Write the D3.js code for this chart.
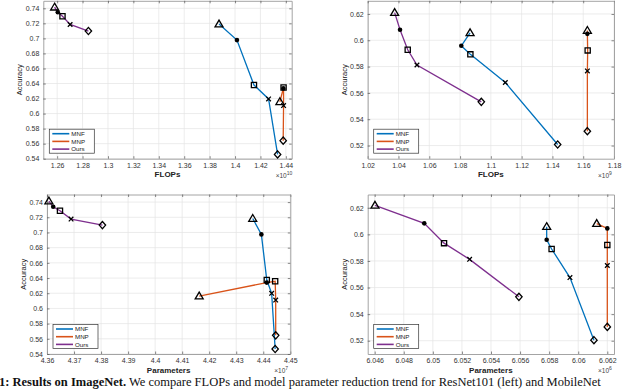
<!DOCTYPE html>
<html>
<head>
<meta charset="utf-8">
<script src="https://cdn.jsdelivr.net/npm/d3@7"></script>
<style>
  body { margin: 0; background: #fff; }
  svg { display: block; }
</style>
</head>
<body>
<div id="chart"></div>
<script>
/* accuracy vs FLOPs / parameters, four panels */

var seriesNames = ["MNF", "MNP", "Ours"];
var seriesColors = ["#0072BD", "#D95319", "#7E2F8E"];
var markerTypes = ["triangle", "circle", "square", "cross", "diamond"];

// ResNet101, FLOPs (x1e10) vs accuracy
var resFlopsMNF = [[1.3874,0.719],[1.4015,0.6977],[1.4149,0.638],[1.4264,0.6195],[1.4335,0.5457]];
var resFlopsMNP = [[1.4353,0.6157],[1.4380,0.6335],[1.4382,0.6347],[1.4382,0.6107],[1.4379,0.564]];
var resFlopsOurs = [[1.258,0.7415],[1.2605,0.7347],[1.2642,0.7295],[1.2702,0.7185],[1.2846,0.7098]];

// MobileNet, FLOPs (x1e9) vs accuracy
var mobFlopsMNF = [[1.0865,0.6056],[1.0808,0.5958],[1.0867,0.5893],[1.1094,0.5679],[1.1434,0.5208]];
var mobFlopsMNP = [[1.1627,0.6074],[1.1627,0.6049],[1.1629,0.5923],[1.1627,0.5767],[1.1627,0.5309]];
var mobFlopsOurs = [[1.0375,0.621],[1.041,0.608],[1.046,0.5928],[1.052,0.5812],[1.0938,0.5532]];

// ResNet101, parameters (x1e7) vs accuracy
var resParamsMNF = [[4.4361,0.7184],[4.4393,0.6975],[4.4413,0.6374],[4.4431,0.6199],[4.4444,0.5466]];
var resParamsMNP = [[4.4163,0.6163],[4.4413,0.634],[4.4444,0.6357],[4.4446,0.611],[4.4446,0.5646]];
var resParamsOurs = [[4.3607,0.7413],[4.3623,0.7338],[4.3648,0.7286],[4.3689,0.7176],[4.3805,0.7097]];

// MobileNet, parameters (x1e6) vs accuracy
var mobParamsMNF = [[6.05783,0.6058],[6.05783,0.5959],[6.05817,0.589],[6.05943,0.5675],[6.06108,0.5204]];
var mobParamsMNP = [[6.06127,0.6081],[6.06200,0.6045],[6.06200,0.5921],[6.06200,0.5766],[6.06200,0.5304]];
var mobParamsOurs = [[6.04602,0.6218],[6.04941,0.6083],[6.05077,0.5934],[6.05253,0.5812],[6.05592,0.553]];

// tick values
var xTicksResFlops = [1.26,1.28,1.30,1.32,1.34,1.36,1.38,1.40,1.42,1.44];
var xTicksMobFlops = [1.02,1.04,1.06,1.08,1.10,1.12,1.14,1.16,1.18];
var xTicksResParams = [4.36,4.37,4.38,4.39,4.40,4.41,4.42,4.43,4.44,4.45];
var xTicksMobParams = [6.046,6.048,6.050,6.052,6.054,6.056,6.058,6.060,6.062];
var yTicksRes = [0.54,0.56,0.58,0.60,0.62,0.64,0.66,0.68,0.70,0.72,0.74];
var yTicksMob = [0.52,0.54,0.56,0.58,0.60,0.62];

var W = 640, H = 389;

var panels = [
  {l:43.3, r:291.7, t:0.8, b:158.7, xd:[1.2491,1.4446], yd:[0.54,0.75], xt:xTicksResFlops, yt:yTicksRes,
   xlab:"FLOPs", exp:"10", data:[resFlopsMNF,resFlopsMNP,resFlopsOurs]},
  {l:367.7, r:614, t:0.8, b:158.7, xd:[1.02,1.18], yd:[0.51,0.63], xt:xTicksMobFlops, yt:yTicksMob,
   xlab:"FLOPs", exp:"9", data:[mobFlopsMNF,mobFlopsMNP,mobFlopsOurs]},
  {l:47, r:290.3, t:194.5, b:354, xd:[4.36,4.45], yd:[0.54,0.75], xt:xTicksResParams, yt:yTicksRes,
   xlab:"Parameters", exp:"7", data:[resParamsMNF,resParamsMNP,resParamsOurs]},
  {l:367.7, r:614, t:194.5, b:354, xd:[6.04552,6.06246], yd:[0.51,0.63], xt:xTicksMobParams, yt:yTicksMob,
   xlab:"Parameters", exp:"6", data:[mobParamsMNF,mobParamsMNP,mobParamsOurs]}
];

var svg = d3.select("#chart").append("svg")
  .attr("width", W).attr("height", H);

function fmt(v){ return String(+v.toFixed(4)); }

function marker(g, type, x, y){
  var p;
  if (type=="triangle") p = `M${x},${y-4}L${x+4},${y+2.8}L${x-4},${y+2.8}Z`;
  else if (type=="square") p = `M${x-2.6},${y-2.6}h5.2v5.2h-5.2Z`;
  else if (type=="diamond") p = `M${x},${y-3.6}L${x+3.2},${y}L${x},${y+3.6}L${x-3.2},${y}Z`;
  else if (type=="cross") p = `M${x-2.3},${y-2.3}L${x+2.3},${y+2.3}M${x-2.3},${y+2.3}L${x+2.3},${y-2.3}`;
  if (type=="circle") {
    g.append("circle").attr("cx",x).attr("cy",y).attr("r",2.3).attr("fill","#000");
  } else {
    g.append("path").attr("d",p).attr("fill","none").attr("stroke","#000").attr("stroke-width",1.3);
  }
}

panels.forEach(function(P){
  var x = d3.scaleLinear().domain(P.xd).range([P.l,P.r]);
  var y = d3.scaleLinear().domain(P.yd).range([P.b,P.t]);
  var g = svg.append("g");

  // grid
  g.selectAll(".gx").data(P.xt).enter().append("line")
    .attr("x1",d=>x(d)).attr("x2",d=>x(d)).attr("y1",P.t).attr("y2",P.b)
    .attr("stroke","#e4e4e4").attr("stroke-width",0.7);
  g.selectAll(".gy").data(P.yt).enter().append("line")
    .attr("y1",d=>y(d)).attr("y2",d=>y(d)).attr("x1",P.l).attr("x2",P.r)
    .attr("stroke","#e4e4e4").attr("stroke-width",0.7);

  // axes, ticks inward
  g.append("g").attr("transform",`translate(0,${P.b})`)
    .call(d3.axisBottom(x).tickValues(P.xt).tickFormat(fmt).tickSizeInner(-2.5).tickSizeOuter(0).tickPadding(4));
  g.append("g").attr("transform",`translate(${P.l},0)`)
    .call(d3.axisLeft(y).tickValues(P.yt).tickFormat(fmt).tickSizeInner(-2.5).tickSizeOuter(0).tickPadding(4));
  g.append("g").attr("transform",`translate(0,${P.t})`)
    .call(d3.axisTop(x).tickValues(P.xt).tickFormat("").tickSizeInner(-2.5).tickSizeOuter(0));
  g.append("g").attr("transform",`translate(${P.r},0)`)
    .call(d3.axisRight(y).tickValues(P.yt).tickFormat("").tickSizeInner(-2.5).tickSizeOuter(0));
  g.selectAll(".domain").attr("stroke","#9a9a9a").attr("stroke-width",0.9);
  g.selectAll(".tick line").attr("stroke","#555").attr("stroke-width",0.7);
  g.selectAll(".tick text").attr("font-family","Liberation Sans, Arial, sans-serif")
    .attr("font-size",7).attr("fill","#333");

  // labels
  g.append("text").text(P.xlab)
    .attr("x",(P.l+P.r)/2).attr("y",P.b+18.5).attr("text-anchor","middle")
    .attr("font-family","Liberation Sans, Arial, sans-serif").attr("font-size",8)
    .attr("font-weight","bold").attr("fill","#222");
  g.append("text")
    .attr("transform",`translate(${P.l-21},${(P.t+P.b)/2}) rotate(-90)`)
    .attr("text-anchor","middle")
    .attr("font-family","Liberation Sans, Arial, sans-serif").attr("font-size",7.5)
    .attr("fill","#222").text("Accuracy");
  var e = g.append("text").attr("x",P.r-16).attr("y",P.b+19)
    .attr("font-family","Liberation Sans, Arial, sans-serif").attr("font-size",6.5).attr("fill","#444");
  e.append("tspan").text("\u00d710");
  e.append("tspan").attr("dy",-3).attr("font-size",5).text(P.exp);

  // lines then markers
  var line = d3.line().x(d=>x(d[0])).y(d=>y(d[1]));
  P.data.forEach(function(s,i){
    g.append("path").datum(s).attr("d",line)
      .attr("fill","none").attr("stroke",seriesColors[i]).attr("stroke-width",1.3);
  });
  P.data.forEach(function(s){
    s.forEach(function(d,j){ marker(g, markerTypes[j], x(d[0]), y(d[1])); });
  });

  // legend
  var lx = P.l+6, lb = P.b-5.5, lw = 45, lh = 24;
  var lg = g.append("g");
  lg.append("rect").attr("x",lx).attr("y",lb-lh).attr("width",lw).attr("height",lh)
    .attr("fill","#fff").attr("stroke","#333").attr("stroke-width",0.7);
  seriesNames.forEach(function(n,i){
    var yy = lb-lh+4.5+i*7.7;
    lg.append("line").attr("x1",lx+3).attr("x2",lx+20).attr("y1",yy).attr("y2",yy)
      .attr("stroke",seriesColors[i]).attr("stroke-width",1.6);
    lg.append("text").attr("x",lx+22).attr("y",yy+2.2).text(n)
      .attr("font-family","Liberation Sans, Arial, sans-serif").attr("font-size",6.2).attr("fill","#222");
  });
});

// caption, moved up just enough to stay inside the frame
var cap = svg.append("text").attr("x",-1).attr("y",385.5)
  .attr("font-family","Liberation Serif, Times New Roman, serif").attr("font-size",12.5).attr("fill","#111");
cap.append("tspan").attr("font-weight","bold").text("1: Results on ImageNet.");
cap.append("tspan").text(" We compare FLOPs and model parameter reduction trend for ResNet101 (left) and MobileNet");
</script>
</body>
</html>
